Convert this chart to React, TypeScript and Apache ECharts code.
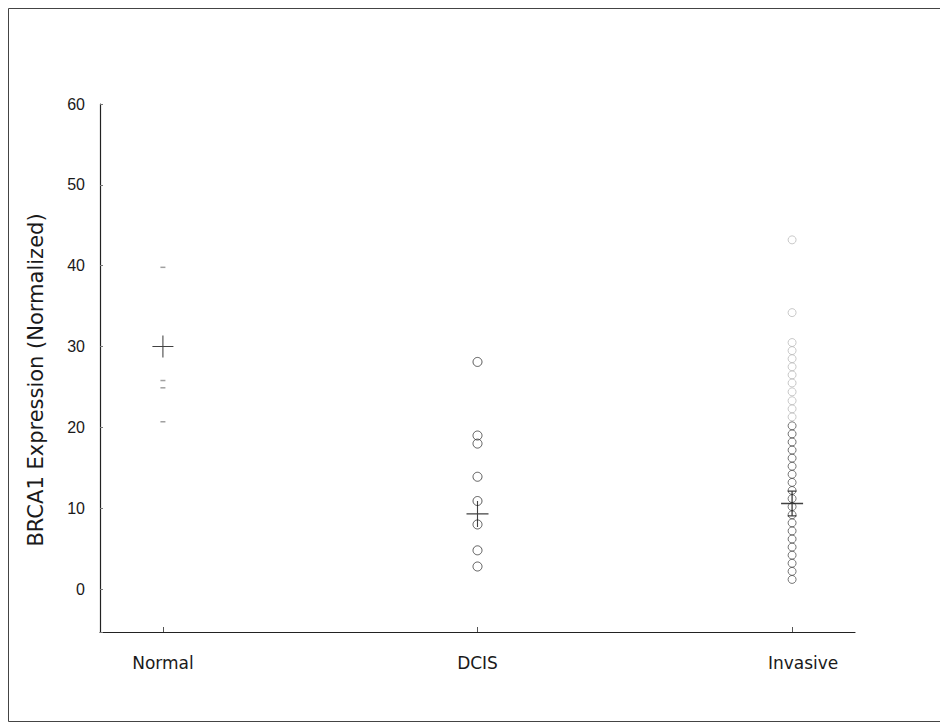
import React, { useEffect, useRef } from "react";
import * as echarts from "echarts";

const categories = ["Normal", "DCIS", "Invasive"];
const yTicks = [0, 10, 20, 30, 40, 50, 60];
const normalValues = [39.8, 25.8, 24.9, 20.7];
const dcisValues = [28.1, 19.0, 18.0, 13.9, 10.9, 8.0, 4.8, 2.8];
const invasiveValues = [
  43.2, 34.2, 30.5, 29.5, 28.5, 27.5, 26.5, 25.5, 24.4, 23.3, 22.3, 21.3,
  20.2, 19.2, 18.2, 17.2, 16.2, 15.2, 14.2, 13.2, 12.2, 11.2, 10.2, 9.2,
  8.2, 7.2, 6.2, 5.2, 4.2, 3.2, 2.2, 1.2,
];
const groupMeans = [30.0, 9.3, 10.6];

const CROSS = "path://M0,9.5H20V10.5H0Z M9.5,0H10.5V20H9.5Z";
const CROSS_CAPS =
  "path://M0,9.4H20V10.6H0Z M9.4,0H10.6V20H9.4Z M6,0H14V1H6Z M6,19H14V20H6Z";

export default function App() {
  const ref = useRef<HTMLDivElement>(null);
  useEffect(() => {
    if (!ref.current) return;
    const chart = echarts.init(ref.current, undefined, { renderer: "svg" });
    const font = "'Liberation Sans', Arial, sans-serif";
    const wide = "'DejaVu Sans', sans-serif";
    chart.setOption({
      animation: false,
      backgroundColor: "#ffffff",
      graphic: [
        {
          type: "rect",
          shape: { x: 8.5, y: 8.5, width: 940, height: 713 },
          style: { fill: "none", stroke: "#444", lineWidth: 1 },
          silent: true,
        },
      ],
      grid: { left: 100, right: 85, top: 104, bottom: 96, containLabel: false },
      xAxis: {
        type: "value",
        min: 0.8,
        max: 3.2,
        splitNumber: 3,
        splitLine: { show: false },
        axisLine: { show: true, onZero: false, lineStyle: { color: "#222", width: 1.2 } },
        axisTick: { show: true, inside: true, length: 5, lineStyle: { color: "#555" } },
        axisLabel: {
          margin: 22,
          fontSize: 17,
          fontFamily: wide,
          color: "#1a1a1a",
          showMinLabel: false,
          showMaxLabel: false,
          formatter: (v: number) => {
            if (!(Number.isInteger(v) && v >= 1 && v <= categories.length)) return "";
            return v === categories.length ? `{shift|${categories[v - 1]}}` : categories[v - 1];
          },
          rich: {
            shift: {
              fontSize: 17,
              fontFamily: wide,
              color: "#1a1a1a",
              padding: [0, 0, 0, 22],
            },
          },
        },
      },
      yAxis: {
        type: "value",
        min: -5.3,
        max: 60,
        splitNumber: 7,
        name: "BRCA1 Expression (Normalized)",
        nameLocation: "middle",
        nameGap: 54,
        nameTextStyle: {
          fontSize: 21,
          fontFamily: wide,
          color: "#1a1a1a",
          padding: [0, 24, 0, 0],
        },
        splitLine: { show: false },
        axisLine: { show: true, onZero: false, lineStyle: { color: "#222", width: 1.2 } },
        axisTick: { show: true, inside: true, length: 3, lineStyle: { color: "#777" } },
        axisLabel: {
          margin: 15,
          fontSize: 16,
          fontFamily: font,
          color: "#1a1a1a",
          formatter: (v: number) => (yTicks.includes(v) ? String(v) : ""),
        },
      },
      series: [
        {
          type: "scatter",
          name: "Normal",
          data: normalValues.map((v) => [1, v]),
          symbol: "rect",
          symbolSize: [5, 1.5],
          itemStyle: { color: "#888" },
        },
        {
          type: "scatter",
          name: "DCIS",
          data: dcisValues.map((v) => [2, v]),
          symbol: "circle",
          symbolSize: 9,
          itemStyle: { color: "rgba(255,255,255,0)", borderColor: "#333", borderWidth: 1 },
        },
        {
          type: "scatter",
          name: "Invasive",
          data: invasiveValues.map((v) => ({
            value: [3, v],
            itemStyle: {
              color: "rgba(255,255,255,0)",
              borderColor: v > 21 ? "#bbb" : "#555",
              borderWidth: 1,
            },
          })),
          symbol: "circle",
          symbolSize: 8,
        },
        {
          type: "scatter",
          name: "Mean",
          z: 5,
          data: groupMeans.map((v, i) => ({
            value: [i + 1, v],
            symbol: i === 2 ? CROSS_CAPS : CROSS,
            symbolSize: i === 0 ? [21, 22] : [22, 26],
          })),
          itemStyle: { color: "#111" },
        },
      ],
    });
    return () => chart.dispose();
  }, []);
  return (
    <div
      ref={ref}
      style={{ position: "fixed", left: 0, top: 0, width: 940, height: 728, background: "#fff" }}
    />
  );
}
